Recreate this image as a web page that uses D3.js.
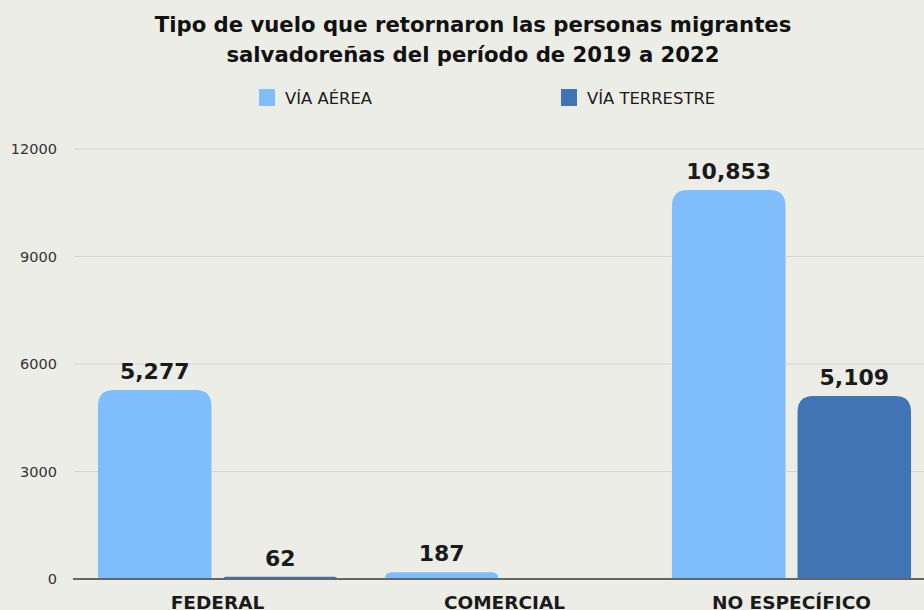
<!DOCTYPE html>
<html><head><meta charset="utf-8">
<script src="https://cdn.jsdelivr.net/npm/d3@7"></script>
<style>
html,body{margin:0;padding:0;background:#edede7;}
svg{display:block;font-family:"DejaVu Sans",sans-serif;}
</style></head>
<body>
<svg id="chart" width="924" height="610"></svg>
<script>
const categories = ["FEDERAL", "COMERCIAL", "NO ESPECÍFICO"];
const seriesNames = ["VÍA AÉREA", "VÍA TERRESTRE"];
const viaAerea = [5277, 187, 10853];
const viaTerrestre = [62, null, 5109];
const yTicks = [0, 3000, 6000, 9000, 12000];
const titleLines = ["Tipo de vuelo que retornaron las personas migrantes", "salvadoreñas del período de 2019 a 2022"];
const colors = ["#80bdfc", "#4174b5"];

const svg = d3.select("#chart");
const W = 924, H = 610;
svg.append("rect").attr("width", W).attr("height", H).attr("fill", "#edede7");

const y = d3.scaleLinear().domain([0, 12000]).range([579, 149]);
const x0 = d3.scaleBand().domain(categories).range([74, 935]).paddingInner(0.167).paddingOuter(0.0835);
const x1 = d3.scaleBand().domain(seriesNames).range([0, x0.bandwidth()]).paddingInner(0.096);

// grid
svg.append("g").selectAll("line").data(yTicks.filter(d => d > 0)).join("line")
  .attr("x1", 74).attr("x2", W).attr("y1", d => y(d)).attr("y2", d => y(d))
  .attr("stroke", "#d6d6d0").attr("stroke-width", 1);

// y axis labels
const yAxis = d3.axisLeft(y).tickValues(yTicks).tickSize(0).tickPadding(0).tickFormat(d3.format("d"));
const ya = svg.append("g").attr("transform", "translate(57,0)").call(yAxis);
ya.select(".domain").remove();
ya.selectAll("text").attr("fill", "#333").style("font-size", "14.5px").style("font-family", "'DejaVu Sans',sans-serif");

// bars
const data = categories.map((c, i) => ({cat: c, vals: [
  {s: seriesNames[0], v: viaAerea[i], c: colors[0]},
  {s: seriesNames[1], v: viaTerrestre[i], c: colors[1]}
]}));

function topRounded(x, yTop, w, h, r) {
  r = Math.min(r, h, w / 2);
  const yb = yTop + h;
  return `M${x},${yb}V${yTop + r}Q${x},${yTop} ${x + r},${yTop}H${x + w - r}Q${x + w},${yTop} ${x + w},${yTop + r}V${yb}Z`;
}

const g = svg.append("g").selectAll("g").data(data).join("g")
  .attr("transform", d => `translate(${x0(d.cat)},0)`);
const bars = g.selectAll("g").data(d => d.vals.filter(v => v.v != null)).join("g");
bars.append("path")
  .attr("d", d => topRounded(x1(d.s), y(d.v), x1.bandwidth(), y(0) - y(d.v), 16))
  .attr("fill", d => d.c);
bars.append("text")
  .attr("x", d => x1(d.s) + x1.bandwidth() / 2)
  .attr("y", d => y(d.v) - 11)
  .attr("text-anchor", "middle")
  .attr("fill", "#1a1a1a")
  .style("font-size", "22px").style("font-weight", "700")
  .text(d => d3.format(",")(d.v));

// baseline
svg.append("line").attr("x1", 73).attr("x2", W).attr("y1", y(0)).attr("y2", y(0))
  .attr("stroke", "#666").attr("stroke-width", 2);

// x labels
svg.append("g").selectAll("text").data(categories).join("text")
  .attr("x", d => x0(d) + x0.bandwidth() / 2)
  .attr("y", 609)
  .attr("text-anchor", "middle")
  .attr("fill", "#1a1a1a")
  .style("font-size", "18.5px").style("font-weight", "700")
  .text(d => d);

// title
svg.append("g").selectAll("text").data(titleLines).join("text")
  .attr("x", 473).attr("y", (d, i) => 32 + i * 30)
  .attr("text-anchor", "middle").attr("fill", "#111")
  .style("font-size", "21.2px").style("font-weight", "700")
  .text(d => d);

// legend
const legendItems = [{n: seriesNames[0], x: 259}, {n: seriesNames[1], x: 561}];
const lg = svg.append("g").selectAll("g").data(legendItems).join("g")
  .attr("transform", d => `translate(${d.x},89)`);
lg.append("rect").attr("width", 16).attr("height", 17).attr("fill", (d, i) => colors[i]);
lg.append("text").attr("x", 26).attr("y", 15).attr("fill", "#1a1a1a")
  .style("font-size", "16.4px").text(d => d.n);
</script>
</body></html>
